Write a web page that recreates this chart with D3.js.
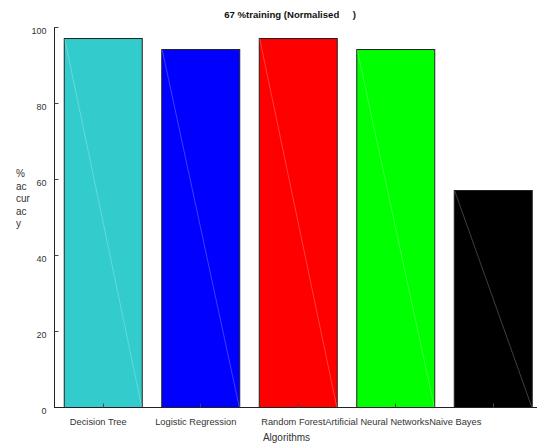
<!DOCTYPE html>
<html><head><meta charset="utf-8">
<script src="https://cdn.jsdelivr.net/npm/d3@7"></script>
<style>
body{margin:0;background:#fff;}
text{font-family:"Liberation Sans",Arial,sans-serif;fill:#333;}
</style></head>
<body>
<script>
const categories = ["Decision Tree","Logistic Regression","Random Forest","Artificial Neural Networks","Naive Bayes"];
const accuracy = [97.1, 94.2, 97.1, 94.2, 57.1];
const barColors = ["#33cccc","#0000ff","#ff0000","#00ff00","#000000"];
const yTicks = [0,20,40,60,80,100];
const titleText = "67 %training (Normalised     )";
const xLabel = "Algorithms";
const yLabelLines = ["%","ac","cur","ac","y"];

const W=537,H=446;
const svg=d3.select("body").append("svg").attr("width",W).attr("height",H);
const x=d3.scaleBand().domain(categories).range([54,541.5]).paddingInner(0.2).paddingOuter(0.1);
const y=d3.scaleLinear().domain([0,100]).range([407,27]);

// bars
const g=svg.append("g");
g.selectAll("rect.bar").data(categories).join("rect")
  .attr("x",d=>x(d)+0.5).attr("y",(d,i)=>y(accuracy[i])+0.5)
  .attr("width",x.bandwidth()).attr("height",(d,i)=>y(0)-y(accuracy[i]))
  .attr("fill",(d,i)=>barColors[i]).attr("stroke","#222").attr("stroke-width",1);
// rendering diagonal artifacts
g.selectAll("line.diag").data(categories).join("line")
  .attr("x1",d=>x(d)+1).attr("y1",(d,i)=>y(accuracy[i])+1)
  .attr("x2",d=>x(d)+x.bandwidth()).attr("y2",y(0))
  .attr("stroke","#fff").attr("stroke-opacity",0.35).attr("stroke-width",0.7);

// y axis
const ya=svg.append("g").attr("transform","translate(54.5,0)");
ya.append("line").attr("x1",0).attr("x2",0).attr("y1",y(100)).attr("y2",y(0)).attr("stroke","#222");
ya.selectAll("line.t").data(yTicks).join("line").attr("x1",0).attr("x2",4)
  .attr("y1",d=>Math.round(y(d))+0.5).attr("y2",d=>Math.round(y(d))+0.5).attr("stroke","#444");
ya.selectAll("text").data(yTicks).join("text").attr("x",-8).attr("y",d=>y(d)+6.5)
  .attr("text-anchor","end").style("font-size","9px").text(d=>d);

// x axis
const xa=svg.append("g").attr("transform","translate(0,407.5)");
xa.append("line").attr("x1",54).attr("x2",W).attr("y1",0).attr("y2",0).attr("stroke","#222");
xa.selectAll("line.t").data(categories).join("line")
  .attr("x1",d=>Math.round(x(d)+x.bandwidth()/2)+0.5).attr("x2",d=>Math.round(x(d)+x.bandwidth()/2)+0.5)
  .attr("y1",0).attr("y2",-4).attr("stroke","#444");

// x tick labels (as rendered: last labels flow on after the previous one)
const lab=svg.append("text").attr("y",424.5).style("font-size","9.3px");
const spans=lab.selectAll("tspan").data(categories).join("tspan").text(d=>d);
spans.each(function(d,i){
  if(i<3){
    const w=this.getComputedTextLength();
    d3.select(this).attr("x",x(d)+x.bandwidth()/2-w/2-4.5).attr("y",424.5);
  }
});

// x label
svg.append("text").attr("x",286.5).attr("y",441).attr("text-anchor","middle").style("font-size","10px").text(xLabel);
// title
svg.append("text").attr("x",290).attr("y",18).attr("text-anchor","middle")
  .style("font-size","9.6px").style("font-weight","bold").style("fill","#111").style("white-space","pre").text(titleText);
// y label
svg.append("text").attr("x",16).style("font-size","10px").selectAll("tspan").data(yLabelLines).join("tspan")
  .attr("x",16).attr("y",(d,i)=>177+i*12.6).text(d=>d);
</script>
</body></html>
